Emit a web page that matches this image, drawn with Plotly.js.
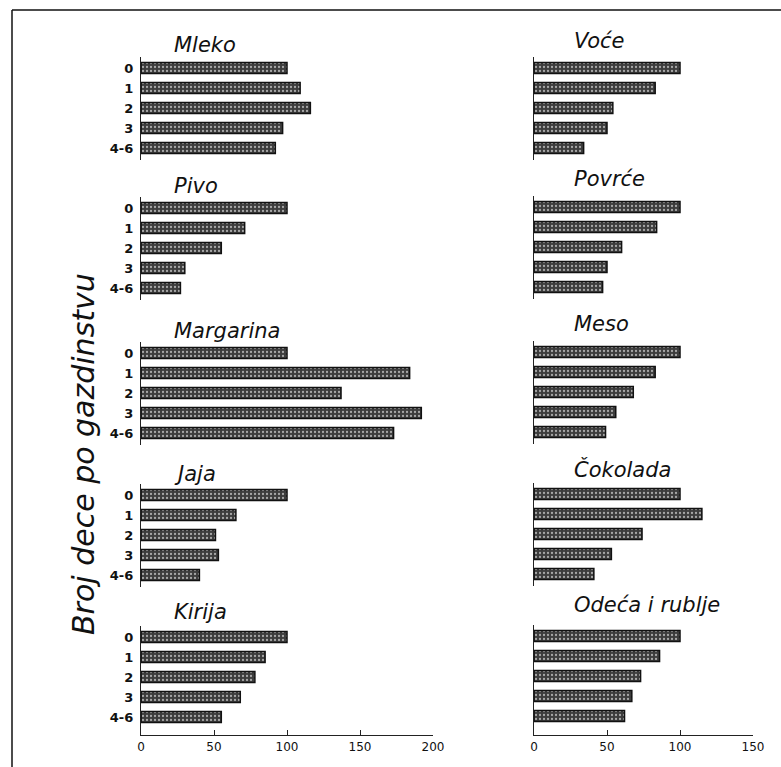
<!DOCTYPE html>
<html>
<head>
<meta charset="utf-8">
<script src="https://cdn.plot.ly/plotly-3.0.1.min.js"></script>
<style>html,body{margin:0;padding:0;background:#fff;}#chart{width:781px;height:767px;}</style>
</head>
<body>
<div id="chart"></div>
<script>
// ---- data ----
const categories = ['0', '1', '2', '3', '4-6'];
const leftTitles = ['Mleko', 'Pivo', 'Margarina', 'Jaja', 'Kirija'];
const rightTitles = ['Voće', 'Povrće', 'Meso', 'Čokolada', 'Odeća i rublje'];
const mleko = [100, 109, 116, 97, 92];
const pivo = [100, 71, 55, 30, 27];
const margarina = [100, 184, 137, 192, 173];
const jaja = [100, 65, 51, 53, 40];
const kirija = [100, 85, 78, 68, 55];
const voce = [100, 83, 54, 50, 34];
const povrce = [100, 84, 60, 50, 47];
const meso = [100, 83, 68, 56, 49];
const cokolada = [100, 115, 74, 53, 41];
const odeca = [100, 86, 73, 67, 62];
const leftTicks = [0, 50, 100, 150, 200];
const rightTicks = [0, 50, 100, 150];
const yAxisTitle = 'Broj dece po gazdinstvu';

// ---- layout helpers ----
const W = 781, H = 767;
const leftValues = [mleko, pivo, margarina, jaja, kirija];
const rightValues = [voce, povrce, meso, cokolada, odeca];
const leftC0 = [68, 208, 353, 495, 637];
const rightC0 = [68, 207, 352, 494, 636];
const leftTitleY = [45, 186, 331, 474, 612];
const rightTitleY = [41, 179, 324, 469, 605];
const leftDom = [141 / W, 433 / W];
const rightDom = [534 / W, 753 / W];
const hand = 'DejaVu Sans, Liberation Sans, sans-serif';

const traces = [];
const layout = {
  width: W, height: H,
  margin: {l: 0, r: 0, t: 0, b: 0},
  paper_bgcolor: '#fff', plot_bgcolor: 'rgba(0,0,0,0)',
  showlegend: false,
  annotations: [],
  shapes: [
    {type: 'line', xref: 'paper', yref: 'paper', x0: 12 / W, x1: 1, y0: 1 - 10 / H, y1: 1 - 10 / H, line: {color: '#111', width: 1.5}},
    {type: 'line', xref: 'paper', yref: 'paper', x0: 12 / W, x1: 12 / W, y0: 1 - 10 / H, y1: 0, line: {color: '#111', width: 1.5}}
  ]
};

function addPanel(idx, values, title, c0, titleY, xdom, xmax, ticks, isBottom, showLabels, titleX) {
  const n = idx === 1 ? '' : String(idx);
  const xa = 'x' + n, ya = 'y' + n;
  traces.push({
    type: 'bar', orientation: 'h',
    x: values, y: categories,
    xaxis: xa, yaxis: ya,
    width: 0.55,
    marker: {
      color: '#4a4a4a',
      line: {color: '#111', width: 1.5},
      pattern: {shape: '.', bgcolor: '#3c3c3c', fgcolor: '#a8a8a8', size: 4, solidity: 0.25}
    },
    hoverinfo: 'skip'
  });
  const top = c0 - 11;
  const bottom = isBottom ? 735 : c0 + 4 * 20 + 12;
  const rBottom = isBottom ? (735 - c0) / 20 : 4.6;
  layout['xaxis' + n] = {
    domain: xdom, anchor: ya, range: [0, xmax],
    showgrid: false, zeroline: false,
    showline: isBottom, linecolor: '#222', linewidth: 1.2,
    ticks: isBottom ? 'inside' : '', ticklen: 5, tickcolor: '#222',
    tickvals: ticks, ticktext: ticks.map(String),
    showticklabels: isBottom,
    tickfont: {family: hand, size: 12, color: '#111'}
  };
  layout['yaxis' + n] = {
    domain: [1 - bottom / H, 1 - top / H], anchor: xa,
    type: 'category', categoryorder: 'array', categoryarray: categories,
    range: [rBottom, -0.55],
    showgrid: false, zeroline: false,
    showline: true, linecolor: '#222', linewidth: 1.2,
    ticks: '', showticklabels: showLabels,
    ticklabelstandoff: 4,
    tickfont: {family: hand, size: 13, color: '#111', weight: 'bold'}
  };
  layout.annotations.push({
    text: title, xref: 'paper', yref: 'paper',
    x: titleX / W, y: 1 - titleY / H, xanchor: 'left', yanchor: 'middle',
    showarrow: false,
    font: {family: hand, size: 21, color: '#111', style: 'italic'}
  });
}

for (let i = 0; i < 5; i++) {
  addPanel(i + 1, leftValues[i], leftTitles[i], leftC0[i], leftTitleY[i], leftDom, 200, leftTicks, i === 4, true, 172);
  addPanel(i + 6, rightValues[i], rightTitles[i], rightC0[i], rightTitleY[i], rightDom, 150, rightTicks, i === 4, false, 572);
}

layout.annotations.push({
  text: yAxisTitle, xref: 'paper', yref: 'paper',
  x: 83 / W, y: 1 - 454 / H, xanchor: 'center', yanchor: 'middle',
  textangle: -90, showarrow: false,
  font: {family: hand, size: 30, color: '#111', style: 'italic'}
});

Plotly.newPlot('chart', traces, layout, {staticPlot: true, displayModeBar: false});
</script>
</body>
</html>
